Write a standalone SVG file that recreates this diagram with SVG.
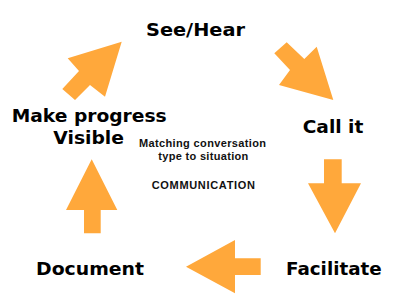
<svg xmlns="http://www.w3.org/2000/svg" width="406" height="308" viewBox="0 0 406 308">
<style>
.lbl{font-family:"DejaVu Sans",Verdana,sans-serif;font-weight:bold;font-size:18.5px;fill:#000}
.sm{font-family:"Liberation Sans",Arial,Helvetica,sans-serif;font-weight:bold;font-size:11px;fill:#111}
.arr{fill:#FFA83B;stroke:none}
</style>
<rect width="406" height="308" fill="#fff"/>
<g id="connectors">
<polygon class="arr" points="121.7,41.7 67.7,58.3 79,71 62.3,89 75,100 90,85 105,96.7"/>
<polygon class="arr" points="286.7,42.3 274.3,53.3 290,70 279,85 333.3,100 316.7,46.7 304.3,59"/>
<polygon class="arr" points="324,159.3 341.7,159.3 341.7,183.3 361,183.3 335,233.3 308,183.3 324,183.3"/>
<polygon class="arr" points="186,266.7 235,240 235,258.3 260.7,258.3 260.7,275 235,275 235,293.3"/>
<polygon class="arr" points="91.7,159.3 117.3,210 100.7,210 100.7,233.3 84,233.3 84,210 66,210"/>
</g>
<g id="see-hear"><text class="lbl" x="146" y="36" textLength="99" lengthAdjust="spacingAndGlyphs">See/Hear</text></g>
<g id="call-it"><text class="lbl" x="302.7" y="133.3" textLength="60.7" lengthAdjust="spacingAndGlyphs">Call it</text></g>
<g id="facilitate"><text class="lbl" x="286" y="275" textLength="95.7" lengthAdjust="spacingAndGlyphs">Facilitate</text></g>
<g id="document"><text class="lbl" x="36" y="275" textLength="108" lengthAdjust="spacingAndGlyphs">Document</text></g>
<g id="make-progress-visible">
<text class="lbl" x="11.7" y="122.3" textLength="155" lengthAdjust="spacingAndGlyphs">Make progress</text>
<text class="lbl" x="53.3" y="144" textLength="70.7" lengthAdjust="spacingAndGlyphs">Visible</text>
</g>
<g id="center">
<text class="sm" x="139" y="146.5" textLength="127" lengthAdjust="spacing">Matching conversation</text>
<text class="sm" x="158.3" y="160" textLength="90" lengthAdjust="spacing">type to situation</text>
<text class="sm" x="151.7" y="189.3" textLength="103.3" lengthAdjust="spacing">COMMUNICATION</text>
</g>
</svg>
